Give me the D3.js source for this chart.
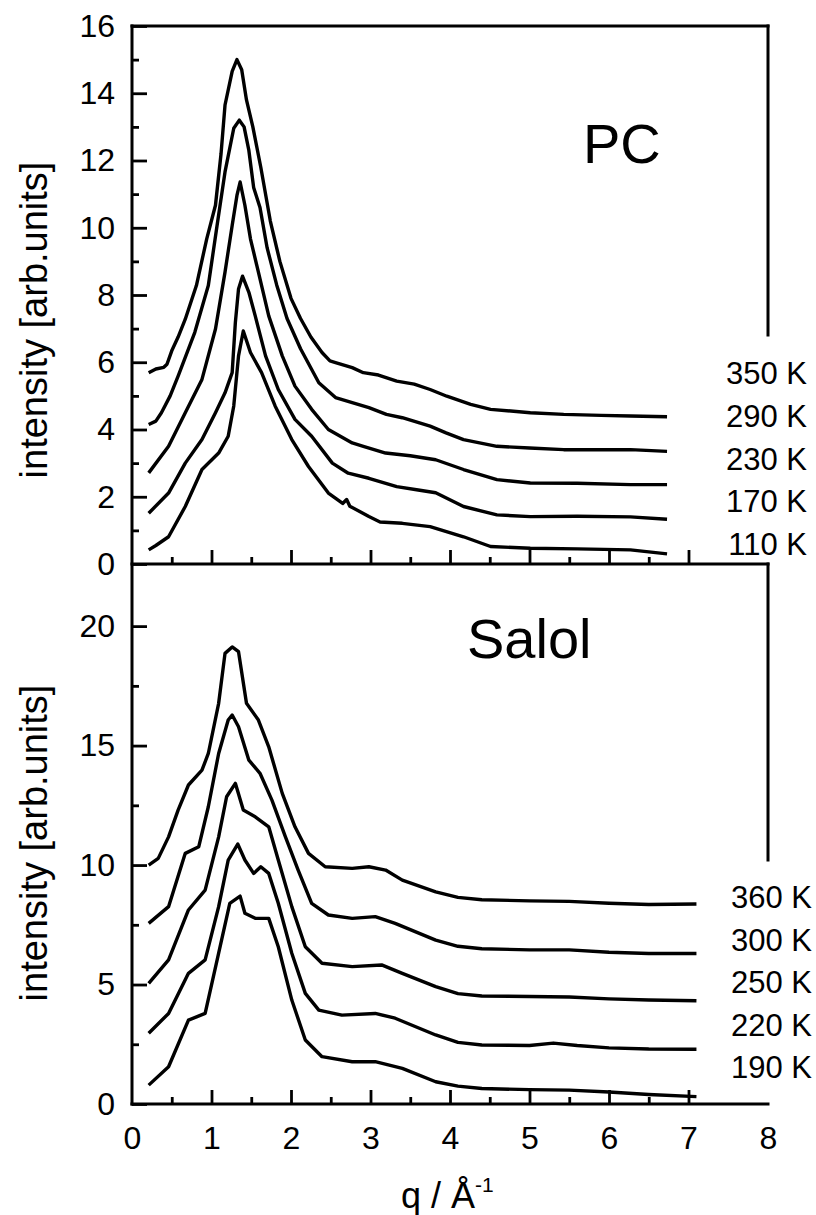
<!DOCTYPE html>
<html>
<head>
<meta charset="utf-8">
<script src="https://cdn.jsdelivr.net/npm/d3@7"></script>
<style>
  body { margin: 0; background: #fff; }
  text { font-family: "Liberation Sans", Arial, sans-serif; fill: #000; }
</style>
</head>
<body>
<svg id="chart" width="816" height="1215"></svg>
<script>
// PC curves, [q, intensity]
const pc350 = [[0.21,5.69],[0.30,5.80],[0.40,5.85],[0.44,5.94],[0.50,6.34],[0.58,6.75],[0.67,7.28],[0.81,8.28],[0.94,9.67],[1.05,10.67],[1.12,12.2],[1.17,13.65],[1.26,14.65],[1.32,15.0],[1.38,14.7],[1.44,13.8],[1.52,13.0],[1.62,11.8],[1.74,10.2],[1.86,9.0],[2.00,7.9],[2.12,7.3],[2.25,6.75],[2.39,6.29],[2.49,6.04],[2.56,5.99],[2.77,5.84],[2.91,5.69],[3.10,5.62],[3.33,5.44],[3.55,5.35],[3.75,5.19],[3.96,4.99],[4.26,4.75],[4.51,4.60],[5.01,4.50],[5.43,4.45],[5.90,4.42],[6.27,4.40],[6.73,4.38]];
const pc290 = [[0.21,4.15],[0.30,4.25],[0.37,4.50],[0.48,5.0],[0.58,5.59],[0.79,6.89],[0.96,8.28],[1.07,10.07],[1.17,11.66],[1.28,12.96],[1.35,13.2],[1.41,13.0],[1.47,12.3],[1.53,11.2],[1.61,10.6],[1.70,9.4],[1.82,8.3],[1.95,7.3],[2.12,6.4],[2.35,5.39],[2.56,4.95],[2.77,4.80],[2.98,4.65],[3.20,4.45],[3.40,4.35],[3.75,4.10],[3.95,3.90],[4.17,3.70],[4.59,3.50],[5.0,3.45],[5.43,3.40],[6.27,3.40],[6.73,3.35]];
const pc230 = [[0.21,2.71],[0.46,3.50],[0.67,4.50],[0.88,5.49],[1.05,6.99],[1.17,8.68],[1.26,10.07],[1.32,10.96],[1.36,11.36],[1.42,10.67],[1.49,9.67],[1.59,8.68],[1.72,7.38],[1.89,6.19],[2.05,5.29],[2.26,4.60],[2.47,4.00],[2.77,3.60],[2.91,3.50],[3.19,3.30],[3.50,3.22],[3.82,3.10],[4.17,2.81],[4.59,2.51],[5.01,2.41],[5.60,2.40],[6.27,2.36],[6.73,2.36]];
const pc170 = [[0.21,1.51],[0.46,2.11],[0.67,3.00],[0.88,3.70],[1.05,4.50],[1.17,5.09],[1.26,5.69],[1.30,7.18],[1.34,8.18],[1.39,8.56],[1.47,8.08],[1.55,7.38],[1.68,6.19],[1.84,5.19],[2.05,4.30],[2.26,3.80],[2.52,3.00],[2.72,2.70],[2.98,2.55],[3.33,2.30],[3.60,2.20],[3.82,2.12],[4.17,1.71],[4.59,1.46],[5.01,1.41],[5.60,1.42],[6.27,1.40],[6.73,1.33]];
const pc110 = [[0.21,0.42],[0.30,0.55],[0.46,0.81],[0.67,1.71],[0.88,2.81],[1.09,3.30],[1.21,3.80],[1.28,4.70],[1.34,6.19],[1.40,6.93],[1.49,6.29],[1.63,5.69],[1.80,4.70],[2.01,3.70],[2.22,2.90],[2.47,2.11],[2.65,1.80],[2.70,1.92],[2.74,1.72],[2.98,1.41],[3.12,1.25],[3.40,1.21],[3.75,1.11],[4.17,0.81],[4.51,0.52],[5.01,0.47],[5.60,0.45],[6.27,0.42],[6.73,0.30]];
const pcSeries = [pc350, pc290, pc230, pc170, pc110];
const pcLabels = ["350 K", "290 K", "230 K", "170 K", "110 K"];

// Salol curves
const sal360 = [[0.21,10.0],[0.33,10.28],[0.46,11.18],[0.58,12.30],[0.71,13.35],[0.88,13.97],[0.96,14.67],[1.09,16.77],[1.17,18.86],[1.26,19.13],[1.34,18.93],[1.44,16.77],[1.59,16.07],[1.72,14.95],[1.89,13.0],[2.05,11.60],[2.22,10.49],[2.43,9.93],[2.77,9.86],[2.98,9.93],[3.19,9.79],[3.40,9.37],[3.82,8.88],[4.10,8.65],[4.40,8.55],[5.0,8.50],[5.5,8.48],[6.0,8.40],[6.5,8.35],[7.1,8.37]];
const sal300 = [[0.21,7.56],[0.46,8.26],[0.67,10.49],[0.84,10.77],[0.96,12.44],[1.09,14.67],[1.21,16.07],[1.26,16.28],[1.34,15.79],[1.47,14.39],[1.61,13.84],[1.76,12.72],[1.93,11.18],[2.09,9.79],[2.26,8.40],[2.47,7.91],[2.77,7.77],[3.06,7.84],[3.31,7.56],[3.82,6.86],[4.10,6.60],[4.40,6.50],[5.0,6.45],[5.5,6.45],[6.0,6.35],[6.5,6.30],[7.1,6.30]];
const sal250 = [[0.21,5.05],[0.46,6.03],[0.71,8.12],[0.92,8.95],[1.09,11.18],[1.19,12.86],[1.30,13.42],[1.40,12.30],[1.55,12.02],[1.72,11.60],[1.84,10.21],[2.01,8.26],[2.18,6.58],[2.39,5.89],[2.77,5.75],[3.14,5.82],[3.40,5.47],[3.82,4.91],[4.10,4.62],[4.40,4.52],[5.0,4.50],[5.5,4.48],[6.0,4.40],[6.5,4.35],[7.1,4.32]];
const sal220 = [[0.21,2.96],[0.46,3.79],[0.71,5.47],[0.92,6.03],[1.09,8.26],[1.21,10.21],[1.33,10.88],[1.42,10.21],[1.53,9.65],[1.62,9.93],[1.72,9.65],[1.84,8.40],[2.01,6.31],[2.18,4.63],[2.35,3.93],[2.64,3.72],[3.06,3.79],[3.31,3.59],[3.82,2.89],[4.10,2.58],[4.40,2.47],[5.0,2.45],[5.3,2.55],[5.6,2.45],[6.0,2.35],[6.5,2.30],[7.1,2.29]];
const sal190 = [[0.21,0.79],[0.46,1.56],[0.71,3.51],[0.92,3.79],[1.09,6.31],[1.23,8.40],[1.36,8.70],[1.42,7.98],[1.55,7.77],[1.72,7.77],[1.84,6.58],[2.01,4.35],[2.18,2.68],[2.39,1.98],[2.77,1.77],[3.06,1.77],[3.40,1.49],[3.82,0.93],[4.10,0.75],[4.40,0.65],[5.0,0.60],[5.5,0.58],[6.0,0.50],[6.5,0.40],[7.1,0.31]];
const salSeries = [sal360, sal300, sal250, sal220, sal190];
const salLabels = ["360 K", "300 K", "250 K", "220 K", "190 K"];

// ticks
const xLabelTicks = [0, 1, 2, 3, 4, 5, 6, 7, 8];
const xMinorTicks = [0.5, 1.5, 2.5, 3.5, 4.5, 5.5, 6.5];
const pcMajorTicks = [0, 2, 4, 6, 8, 10, 12, 14, 16];
const pcMinorTicks = [1, 3, 5, 7, 9, 11, 13, 15];
const salMajorTicks = [0, 5, 10, 15, 20];
const salMinorTicks = [2.5, 7.5, 12.5, 17.5];

const svg = d3.select("#chart");

const x = d3.scaleLinear().domain([0, 8]).range([132, 768]);
const yPC = d3.scaleLinear().domain([0, 16]).range([564, 26]);
const ySal = d3.scaleLinear().domain([0, 22.6]).range([1104, 564]);

function styleAxis(g) {
    g.select(".domain").remove();
    g.selectAll(".tick line").attr("stroke", "#000").attr("stroke-width", 2.8);
    g.selectAll(".tick text")
        .attr("fill", "#000")
        .style("font-size", "32px")
        .style("font-family", "'Liberation Sans', Arial, sans-serif");
}

// x axes (ticks point up into each panel)
[564, 1104].forEach((yy, i) => {
    svg.append("g")
        .attr("transform", `translate(0,${yy})`)
        .call(d3.axisBottom(x).tickValues(xMinorTicks).tickSize(-7).tickFormat(""))
        .call(styleAxis);
    const major = svg.append("g")
        .attr("transform", `translate(0,${yy})`)
        .call(d3.axisBottom(x).tickValues(xLabelTicks).tickSize(-14).tickPadding(22)
            .tickFormat(i === 1 ? d3.format("d") : ""))
        .call(styleAxis);
    major.selectAll(".tick line").filter(d => d === 0 || d === 8).remove();
});

// y axes
svg.append("g").attr("transform", "translate(132,0)")
    .call(d3.axisLeft(yPC).tickValues(pcMinorTicks).tickSize(-7).tickFormat(""))
    .call(styleAxis);
svg.append("g").attr("transform", "translate(132,0)")
    .call(d3.axisLeft(yPC).tickValues(pcMajorTicks).tickSize(-15).tickPadding(17))
    .call(styleAxis);
svg.append("g").attr("transform", "translate(132,0)")
    .call(d3.axisLeft(ySal).tickValues(salMinorTicks).tickSize(-7).tickFormat(""))
    .call(styleAxis);
svg.append("g").attr("transform", "translate(132,0)")
    .call(d3.axisLeft(ySal).tickValues(salMajorTicks).tickSize(-15).tickPadding(17))
    .call(styleAxis);

// frame lines
const frame = [
    [x(0), yPC(16), x(0), ySal(0)],
    [x(0), yPC(16), x(8), yPC(16)],
    [x(8), yPC(16), x(8), 335],
    [x(0), yPC(0), x(8), yPC(0)],
    [x(8), yPC(0), x(8), 860],
    [x(0), ySal(0), x(8), ySal(0)]
];
svg.append("g").selectAll("line").data(frame).join("line")
    .attr("x1", d => d[0]).attr("y1", d => d[1])
    .attr("x2", d => d[2]).attr("y2", d => d[3])
    .attr("stroke", "#000").attr("stroke-width", 3)
    .attr("stroke-linecap", "square");

// curves
const linePC = d3.line().x(d => x(d[0])).y(d => yPC(d[1]));
const lineSal = d3.line().x(d => x(d[0])).y(d => ySal(d[1]));

svg.append("g").selectAll("path").data(pcSeries).join("path")
    .attr("d", linePC)
    .attr("fill", "none").attr("stroke", "#000")
    .attr("stroke-width", 3.4).attr("stroke-linejoin", "round");

svg.append("g").selectAll("path").data(salSeries).join("path")
    .attr("d", lineSal)
    .attr("fill", "none").attr("stroke", "#000")
    .attr("stroke-width", 3.4).attr("stroke-linejoin", "round");

// temperature labels
svg.append("g").selectAll("text").data(pcLabels).join("text")
    .attr("x", 807).attr("y", (d, i) => 384 + i * 42.75)
    .attr("text-anchor", "end").style("font-size", "31px")
    .text(d => d);
svg.append("g").selectAll("text").data(salLabels).join("text")
    .attr("x", 812).attr("y", (d, i) => 908 + i * 42.6)
    .attr("text-anchor", "end").style("font-size", "31px")
    .text(d => d);

// panel titles
svg.append("text").attr("x", 583).attr("y", 163).style("font-size", "56px").text("PC");
svg.append("text").attr("x", 467).attr("y", 658).style("font-size", "56px").text("Salol");

// axis titles
[320, 843].forEach(cy => {
    svg.append("text")
        .attr("transform", `translate(47,${cy}) rotate(-90)`)
        .attr("text-anchor", "middle")
        .style("font-size", "38px")
        .text("intensity [arb.units]");
});

const xt = svg.append("text").attr("x", 401).attr("y", 1208).style("font-size", "36px");
xt.append("tspan").text("q / Å");
xt.append("tspan").attr("dy", -16).style("font-size", "21px").text("-1");
</script>
</body>
</html>
